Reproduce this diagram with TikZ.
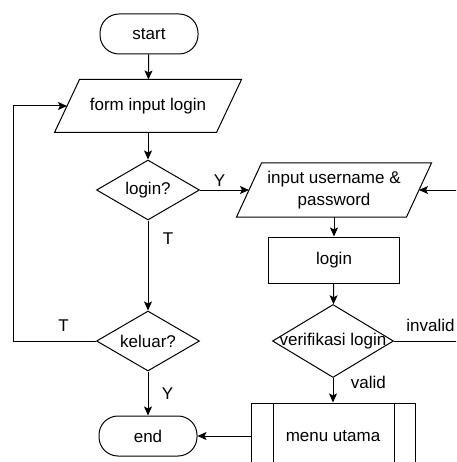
\documentclass[tikz,border=0pt]{standalone}
\usepackage{fontspec}
\setmainfont{Liberation Sans}
\usetikzlibrary{shapes.geometric,arrows.meta}
\begin{document}
\begin{tikzpicture}[x=1pt,y=-1pt,
		font=\fontsize{17}{22}\selectfont,
		line width=1pt,
		terminal/.style={draw, rounded corners=19pt, minimum width=98, minimum height=40},
		io/.style={minimum width=161, minimum height=52, align=center,
			append after command={\pgfextra{\draw ([xshift=12.5pt]\tikzlastnode.north west) -- ([xshift=12.5pt]\tikzlastnode.north east)
				-- ([xshift=-12.5pt]\tikzlastnode.south east) -- ([xshift=-12.5pt]\tikzlastnode.south west) -- cycle;}}},
		proc/.style={draw, minimum width=131, minimum height=46},
		cond/.style={draw, diamond, minimum width=103, minimum height=60, inner sep=0},
		subproc/.style={draw, minimum width=164, minimum height=66,
			path picture={\draw ([xshift=22pt]path picture bounding box.north west) -- ([xshift=22pt]path picture bounding box.south west);
				\draw ([xshift=-21pt]path picture bounding box.north east) -- ([xshift=-21pt]path picture bounding box.south east);}},
		arr/.style={-{Stealth[length=9pt,width=8pt,inset=2pt]}}]
		\clip (0,0) rectangle (456,462);
		% left column
		\node[terminal] (start) at (149,34) {start};
		\node[io] (form) at (148,106) {form input login};
		\node[cond, label=center:login?] (login) at (148,190) {};
		\node[cond, label=center:keluar?] (keluar) at (148,341) {};
		\node[terminal] (end) at (148,436) {end};
		% right column
		\node[io, minimum width=169, minimum height=53] (input) at (334,190) {input username \&\\password};
		\node[proc] (auth) at (334,260) {login};
		\node[cond, minimum width=121, minimum height=73, label=center:verifikasi login] (verif) at (333,341) {};
		\node[subproc] (menu) at (333,436) {menu utama};
		% connectors
		\draw[arr] (start) -- (form);
		\draw[arr] (form) -- (login);
		\draw[arr] (login) -- node[pos=0.4, above] (lY) {Y} (input);
		\draw[arr] (login) -- node[pos=0.2, anchor=west, xshift=11pt] (lT) {T} (keluar);
		\draw[arr] (keluar) -- node[pos=0.5, anchor=west, xshift=10pt] (kY) {Y} (end);
		\draw[arr] (keluar.west) -- node[pos=0.39, above, yshift=6pt] (kT) {T} ++(-83,0) |- (form.west);
		\draw[arr] (input) -- (auth);
		\draw[arr] (auth) -- (verif);
		\draw[arr] (verif) -- node[pos=0.2, anchor=west, xshift=14pt] (vOk) {valid} (menu);
		\draw[arr] (verif.east) -- node[pos=0.48, above, yshift=6pt] (vNo) {invalid} (470,341) |- (input.east);
		\draw[arr] (menu) -- (end);
\end{tikzpicture}
\end{document}
